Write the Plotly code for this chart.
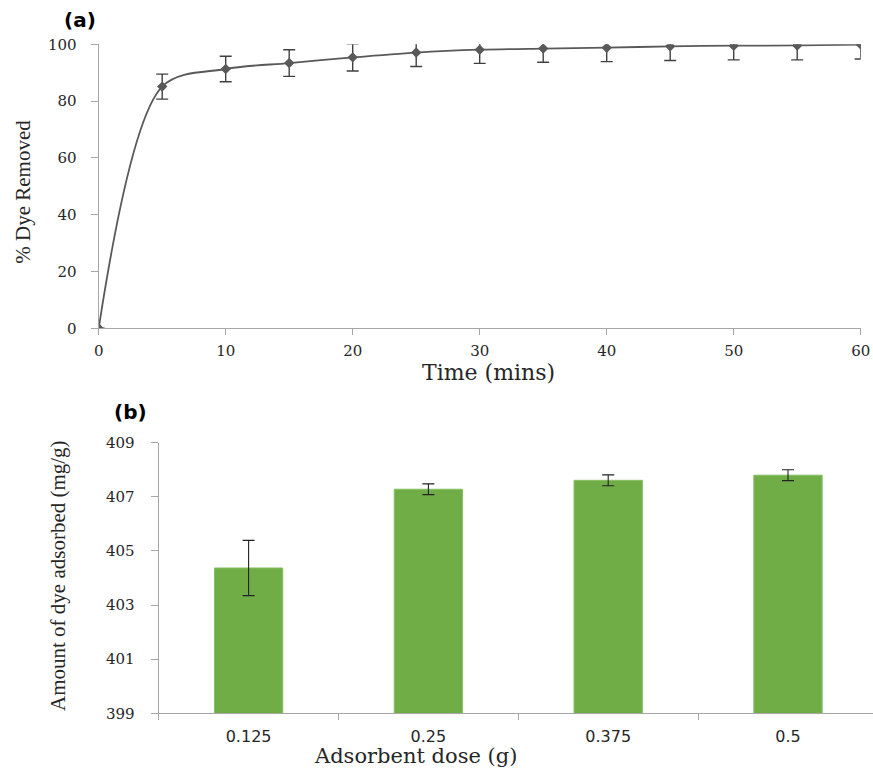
import plotly.graph_objects as go

# ---- data: panel (a) ----
time_min = [0, 5, 10, 15, 20, 25, 30, 35, 40, 45, 50, 55, 60]
dye_removed = [0, 85.1, 91.3, 93.4, 95.4, 97.1, 98.1, 98.5, 98.8, 99.3, 99.5, 99.6, 99.9]
dye_err = [0, 4.4, 4.5, 4.7, 4.8, 4.9, 4.8, 4.8, 4.9, 5.0, 5.0, 5.1, 5.1]

# ---- data: panel (b) ----
dose_labels = ["0.125", "0.25", "0.375", "0.5"]
amount_adsorbed = [404.37, 407.28, 407.61, 407.80]
amount_err = [1.02, 0.2, 0.2, 0.2]

W, H = 873, 774
def px_x(p): return p / W
def px_y(p): return 1 - p / H

fig = go.Figure()

fig.add_trace(go.Scatter(
    x=time_min, y=dye_removed, mode="lines+markers",
    line=dict(color="#595959", width=1.8, shape="spline", smoothing=0.9),
    marker=dict(symbol="diamond", size=8, color="#595959"),
    error_y=dict(type="data", array=dye_err, visible=True, color="#404040", thickness=1.4, width=6),
    xaxis="x", yaxis="y", showlegend=False,
))

fig.add_trace(go.Bar(
    x=dose_labels, y=amount_adsorbed, width=0.38,
    marker=dict(color="#70AD47", line=dict(color="#86c060", width=1)),
    error_y=dict(type="data", array=amount_err, visible=True, color="#222222", thickness=1.1, width=6),
    xaxis="x2", yaxis="y2", showlegend=False,
))

axis_line = "#a6a6a6"
serif_tick = dict(family="DejaVu Serif", size=15, color="#262626")
sans_tick = dict(family="DejaVu Sans", size=16, color="#262626")

x2_left = 158.7
fig.update_layout(
    width=W, height=H,
    margin=dict(l=0, r=0, t=0, b=0, pad=0, autoexpand=False),
    paper_bgcolor="white", plot_bgcolor="white",
    xaxis=dict(
        domain=[px_x(98.7), px_x(860.7)], anchor="y", automargin=False,
        range=[0, 60], tickvals=[0, 10, 20, 30, 40, 50, 60],
        showgrid=False, zeroline=False, showline=True, linecolor=axis_line, linewidth=1.3,
        ticks="outside", ticklen=6, tickcolor=axis_line, tickwidth=1.3,
        tickfont=serif_tick, ticklabelstandoff=3,
    ),
    yaxis=dict(
        domain=[px_y(328.3), px_y(44.3)], anchor="x", automargin=False,
        range=[0, 100], tickvals=[0, 20, 40, 60, 80, 100],
        showgrid=False, zeroline=False, showline=True, linecolor=axis_line, linewidth=1.3,
        ticks="outside", ticklen=7, tickcolor=axis_line, tickwidth=1.3,
        tickfont=serif_tick, ticklabelstandoff=11,
    ),
    xaxis2=dict(
        domain=[px_x(x2_left), 1.0], anchor="y2", automargin=False,
        type="category", range=[-0.5, -0.5 + (873 - x2_left) / 179.8],
        showgrid=False, zeroline=False, showline=True, linecolor=axis_line, linewidth=1.3,
        ticks="outside", tickson="boundaries", ticklen=6, tickcolor=axis_line, tickwidth=1.3,
        tickfont=sans_tick, ticklabelstandoff=8,
    ),
    yaxis2=dict(
        domain=[px_y(713.3), px_y(442.7)], anchor="x2", automargin=False,
        range=[399, 409], tickvals=[399, 401, 403, 405, 407, 409],
        showgrid=False, zeroline=False, showline=True, linecolor=axis_line, linewidth=1.3,
        ticks="outside", ticklen=7, tickcolor=axis_line, tickwidth=1.3,
        tickfont=serif_tick, ticklabelstandoff=13,
    ),
    annotations=[
        dict(text="<b>(a)</b>", x=px_x(62), y=px_y(20), xref="paper", yref="paper",
             xanchor="left", yanchor="middle", showarrow=False,
             font=dict(family="DejaVu Sans", size=20, color="black")),
        dict(text="<b>(b)</b>", x=px_x(112), y=px_y(412), xref="paper", yref="paper",
             xanchor="left", yanchor="middle", showarrow=False,
             font=dict(family="DejaVu Sans", size=20, color="black")),
        dict(text="% Dye Removed", x=px_x(23), y=px_y(191.7), xref="paper", yref="paper",
             xanchor="center", yanchor="middle", showarrow=False, textangle=-90,
             font=dict(family="Liberation Serif", size=21, color="#262626")),
        dict(text="Time (mins)", x=px_x(488), y=px_y(372), xref="paper", yref="paper",
             xanchor="center", yanchor="middle", showarrow=False,
             font=dict(family="DejaVu Serif", size=22, color="#262626")),
        dict(text="Amount of dye adsorbed (mg/g)", x=px_x(58), y=px_y(576), xref="paper", yref="paper",
             xanchor="center", yanchor="middle", showarrow=False, textangle=-90,
             font=dict(family="Liberation Serif", size=21, color="#262626")),
        dict(text="Adsorbent dose (g)", x=px_x(415), y=px_y(756), xref="paper", yref="paper",
             xanchor="center", yanchor="middle", showarrow=False,
             font=dict(family="DejaVu Serif", size=21, color="#262626")),
    ],
)

# remove the default page margin so the figure fills the window exactly
fig.write_html(
    "out.html",
    config={"displayModeBar": False},
    post_script="document.body.style.margin='0';document.body.style.overflow='hidden';",
)
